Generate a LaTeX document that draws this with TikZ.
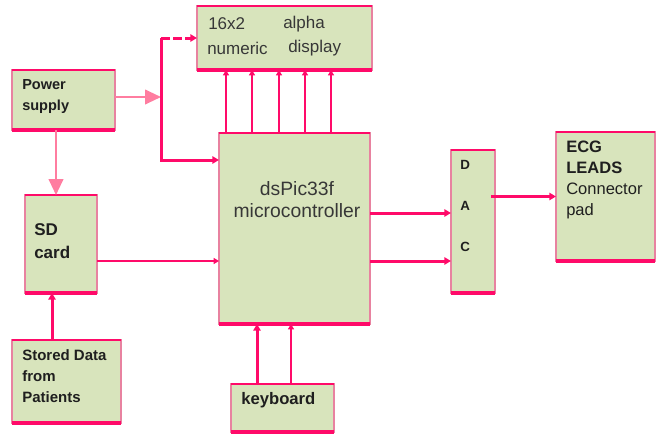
\documentclass[tikz,border=0pt]{standalone}
\usepackage{fontspec}
\setmainfont{Liberation Sans}
\usepackage{xcolor}
\usetikzlibrary{arrows.meta}

\definecolor{boxgreen}{RGB}{216,228,188}
\definecolor{hotpink}{RGB}{255,10,105}
\definecolor{softpink}{RGB}{255,125,160}
\definecolor{sidepink}{RGB}{232,130,160}
\definecolor{labelgray}{RGB}{55,55,55}

\tikzset{
  block/.style={draw=sidepink, line width=1.2pt, fill=boxgreen, anchor=north west, inner sep=0pt, outer sep=0pt},
  topedge/.style={hotpink, line width=1.5pt},
  bottomedge/.style={hotpink, line width=3pt},
  wire/.style={hotpink, line width=2.25pt, -{Triangle[length=5pt,width=5.5pt]}},
  thinwire/.style={hotpink, line width=1.5pt, -{Triangle[length=4pt,width=4.5pt]}},
  feed/.style={softpink, line width=1.5pt, -{Triangle[length=12pt,width=11pt]}},
  txt/.style={anchor=west, inner sep=0pt, align=left, text=black!88},
  graytxt/.style={anchor=west, inner sep=0pt, text=labelgray},
}

\begin{document}
\begin{tikzpicture}[x=0.75pt,y=0.75pt,yscale=-1,xscale=1]
\useasboundingbox (0,0) rectangle (657,433);

%Shape: blocks
\node[block, minimum width=131.25pt, minimum height=48pt] (disp) at (197,6) {};
\node[block, minimum width=77.25pt, minimum height=45pt] (power) at (12,70) {};
\node[block, minimum width=113.25pt, minimum height=143.25pt] (micro) at (219,133) {};
\node[block, minimum width=54pt, minimum height=73.5pt] (sd) at (25,195) {};
\node[block, minimum width=81.75pt, minimum height=62.25pt] (stored) at (12,340) {};
\node[block, minimum width=77.25pt, minimum height=36pt] (kbd) at (231,384) {};
\node[block, minimum width=33pt, minimum height=107.25pt] (dac) at (451,150) {};
\node[block, minimum width=74.25pt, minimum height=96.75pt] (ecg) at (556,132) {};

% heavier top and bottom edges
\foreach \b in {disp,power,micro,sd,stored,kbd,dac,ecg} {
  \draw[topedge] (\b.north west) -- (\b.north east);
  \draw[bottomedge] (\b.south west) -- (\b.south east);
}

% Text Node
\node[graytxt, font=\fontsize{12.75}{15}\selectfont] (disp1) at (208,24) {16x2};
\node[graytxt, font=\fontsize{12.75}{15}\selectfont] (disp2) at (283,24) {alpha};
\node[graytxt, font=\fontsize{12.75}{15}\selectfont] (disp3) at (207,48) {numeric};
\node[graytxt, font=\fontsize{12.75}{15}\selectfont] (disp4) at (288,48) {display};
\node[graytxt, anchor=center, align=center, font=\fontsize{14.5}{16.5}\selectfont] (microtxt) at (297,200) {dsPic33f\\microcontroller};
\node[txt, font=\bfseries\fontsize{10.9}{15.75}\selectfont] (powertxt) at (22,96.5) {Power\\supply};
\node[txt, font=\bfseries\fontsize{12.75}{17.25}\selectfont] (sdtxt) at (34,241.5) {SD\\card};
\node[txt, font=\bfseries\fontsize{11.25}{15.75}\selectfont] (storedtxt) at (22,376) {Stored Data\\from\\Patients};
\node[txt, font=\bfseries\fontsize{12.5}{15}\selectfont] (kbdtxt) at (241,400) {keyboard};
\node[txt, font=\bfseries\fontsize{10}{30.75}\selectfont] (dactxt) at (460,206) {D\\A\\C};
\node[txt, font=\fontsize{12.4}{15.75}\selectfont] (ecgtxt) at (566,180) {\textbf{ECG}\\\textbf{LEADS}\\Connector\\pad};

% supply path
\coordinate (split) at (161,97);
\coordinate (splittop) at (split |- disp.west);
\draw[feed] (power.east |- split) -- (split);
\draw[hotpink, line width=2.25pt] (split) -- (splittop);
\draw[wire, dash pattern=on 7pt off 2pt] (splittop) -- (disp.west);
\draw[wire] (split) |- (micro.west |- 0,160);
\draw[feed] (power.south -| 56,0) -- (sd.north -| 56,0);

% data paths
\foreach \x in {226,252,279,305,331}
  \draw[thinwire] (micro.north -| \x,0) -- (disp.south -| \x,0);
\draw[wire] (stored.north -| 52,0) -- (sd.south -| 52,0);
\draw[thinwire] (sd.east |- 0,261) -- (micro.west |- 0,261);
\draw[wire] (kbd.north -| 257,0) -- (micro.south -| 257,0);
\draw[thinwire] (kbd.north -| 291,0) -- (micro.south -| 291,0);
\draw[wire] (micro.east |- 0,213) -- (dac.west |- 0,213);
\draw[wire] (micro.east |- 0,261) -- (dac.west |- 0,261);
\draw[wire] ([xshift=-3pt]dac.east |- ecg.west) -- (ecg.west);

\end{tikzpicture}
\end{document}
